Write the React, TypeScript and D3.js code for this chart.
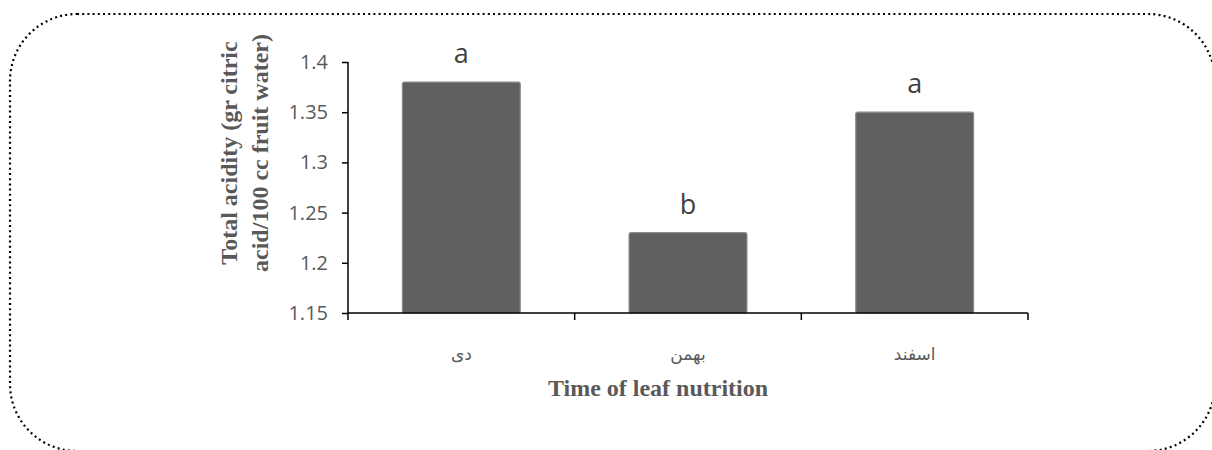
import React, { useRef, useEffect } from 'react';
import * as d3 from 'd3';

const categories = ['دی', 'بهمن', 'اسفند'];
const values = [1.38, 1.23, 1.35];
const letters = ['a', 'b', 'a'];
const yTicks = [1.15, 1.2, 1.25, 1.3, 1.35, 1.4];

const App = () => {
    const ref = useRef<SVGSVGElement>(null);

    useEffect(() => {
        const svg = d3.select(ref.current)
            .attr('width', 1212)
            .attr('height', 450);

        svg.selectAll('*').remove();

        // dotted rounded frame
        svg.append('rect')
            .attr('x', 10)
            .attr('y', 14)
            .attr('width', 1205)
            .attr('height', 437)
            .attr('rx', 67)
            .attr('fill', 'none')
            .attr('stroke', '#000')
            .attr('stroke-width', 2.2)
            .attr('stroke-dasharray', '2 3.2');

        const margin = { top: 62, left: 348 };
        const width = 680;
        const height = 251;

        const g = svg.append('g')
            .attr('transform', `translate(${margin.left},${margin.top})`);

        const x = d3.scaleBand()
            .range([0, width])
            .paddingInner(0.48)
            .paddingOuter(0.24)
            .domain(categories);

        const y = d3.scaleLinear()
            .range([height, 0])
            .domain([1.15, 1.4]);

        // bars
        g.selectAll('.bar')
            .data(values)
            .enter().append('rect')
            .attr('class', 'bar')
            .attr('x', (d, i) => x(categories[i])!)
            .attr('y', d => y(d))
            .attr('width', x.bandwidth())
            .attr('height', d => height - y(d))
            .attr('rx', 2)
            .attr('fill', '#606060')
            .attr('stroke', '#8c8c8c')
            .attr('stroke-width', 1.2);

        // significance letters
        g.selectAll('.letter')
            .data(letters)
            .enter().append('text')
            .attr('x', (d, i) => x(categories[i])! + x.bandwidth() / 2)
            .attr('y', (d, i) => y(values[i]) - 19)
            .attr('text-anchor', 'middle')
            .attr('font-family', 'Open Sans, sans-serif')
            .attr('font-size', 27)
            .attr('fill', '#404040')
            .text(d => d);

        // y axis
        const yAxis = g.append('g')
            .call(d3.axisLeft(y).tickValues(yTicks).tickSize(6).tickFormat(d => String(d)));
        yAxis.select('.domain').attr('stroke', '#000').attr('stroke-width', 1.5).attr('d', `M0,0V${height}`);
        yAxis.selectAll('.tick line').attr('stroke', '#000').attr('stroke-width', 1.5);
        yAxis.selectAll('.tick text')
            .attr('x', -20)
            .attr('font-family', 'Open Sans, sans-serif')
            .attr('font-size', 20)
            .attr('fill', '#595959');

        // x axis with boundary ticks
        const xb = g.append('g').attr('transform', `translate(0,${height})`);
        xb.append('line')
            .attr('x1', 0).attr('x2', width)
            .attr('stroke', '#000').attr('stroke-width', 1.5);
        const step = width / categories.length;
        xb.selectAll('.xt')
            .data(d3.range(categories.length + 1))
            .enter().append('line')
            .attr('x1', d => d * step).attr('x2', d => d * step)
            .attr('y1', 0).attr('y2', 7)
            .attr('stroke', '#000').attr('stroke-width', 1.5);
        xb.selectAll('.xl')
            .data(categories)
            .enter().append('text')
            .attr('x', d => x(d)! + x.bandwidth() / 2)
            .attr('y', 47)
            .attr('text-anchor', 'middle')
            .attr('font-family', 'DejaVu Sans, sans-serif')
            .attr('font-size', 17)
            .attr('fill', '#595959')
            .text(d => d);

        // axis titles
        svg.append('text')
            .attr('x', 658)
            .attr('y', 396)
            .attr('text-anchor', 'middle')
            .attr('font-family', 'Liberation Serif, serif')
            .attr('font-weight', 'bold')
            .attr('font-size', 24)
            .attr('fill', '#595959')
            .text('Time of leaf nutrition');

        const yt = svg.append('text')
            .attr('transform', 'translate(0,153) rotate(-90)')
            .attr('text-anchor', 'middle')
            .attr('font-family', 'Liberation Serif, serif')
            .attr('font-weight', 'bold')
            .attr('font-size', 24)
            .attr('fill', '#595959');
        yt.append('tspan').attr('x', 0).attr('y', 237).text('Total acidity (gr citric');
        yt.append('tspan').attr('x', 0).attr('y', 268).text('acid/100 cc fruit water)');
    }, []);

    return (
        <svg ref={ref} style={{ position: 'absolute', left: 0, top: 0 }}></svg>
    );
};

export default App;
